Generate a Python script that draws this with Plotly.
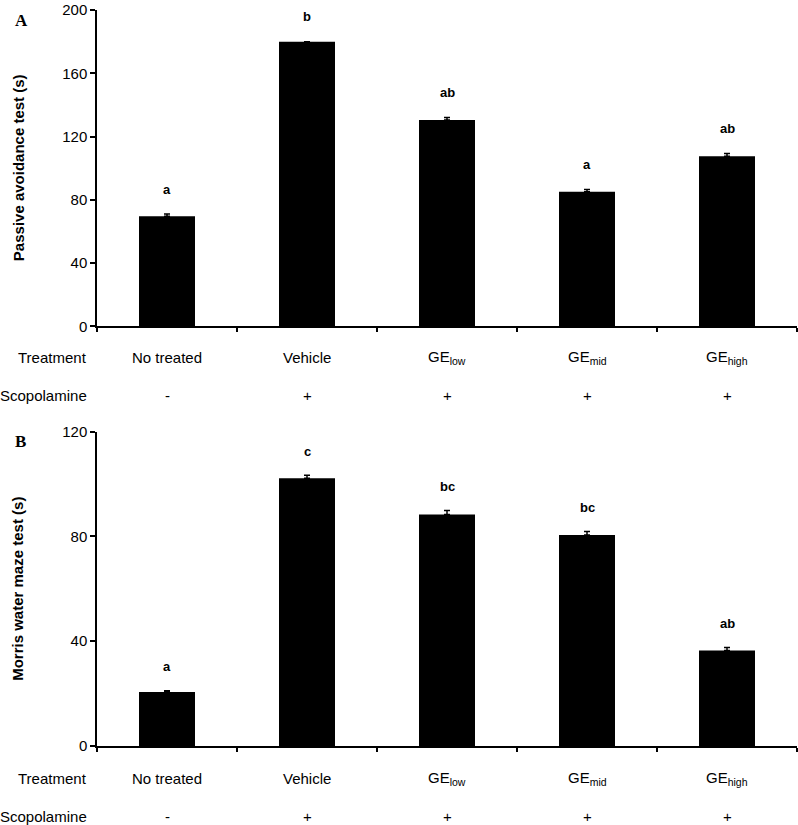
import plotly.graph_objects as go

# ---- data ----
categories = ["No treated", "Vehicle", "GE<sub>low</sub>", "GE<sub>mid</sub>", "GE<sub>high</sub>"]
scopolamine = ["-", "+", "+", "+", "+"]

passive_values = [69.5, 180, 130.5, 85, 107.5]
passive_errors = [1.5, 0, 1.5, 1.5, 1.7]
passive_letters = ["a", "b", "ab", "a", "ab"]

morris_values = [20.6, 102.2, 88.4, 80.6, 36.5]
morris_errors = [0.5, 1.2, 1.5, 1.3, 1.1]
morris_letters = ["a", "c", "bc", "bc", "ab"]

ytick_a = [0, 40, 80, 120, 160, 200]
ytick_b = [0, 40, 80, 120]

# ---- layout helpers ----
W, H = 798, 825
L, R, T, B = 97, 1, 6, 79
PW, PH = W - L - R, H - T - B
FONT = "Liberation Sans, Arial, sans-serif"


def py(p):
    return (H - B - p) / PH


def pxp(p):
    return (p - L) / PW


xs = list(range(len(categories)))

fig = go.Figure()
fig.add_trace(go.Bar(
    x=xs, y=passive_values, width=0.4, marker=dict(color="black", line=dict(width=0)),
    error_y=dict(type="data", array=passive_errors, symmetric=False, arrayminus=[0] * 5,
                 color="black", thickness=1.5, width=3),
    xaxis="x", yaxis="y", showlegend=False, hoverinfo="skip"))
fig.add_trace(go.Bar(
    x=xs, y=morris_values, width=0.4, marker=dict(color="black", line=dict(width=0)),
    error_y=dict(type="data", array=morris_errors, symmetric=False, arrayminus=[0] * 5,
                 color="black", thickness=1.5, width=3),
    xaxis="x2", yaxis="y2", showlegend=False, hoverinfo="skip"))

xaxis_common = dict(range=[-0.5, 4.5], tickmode="array",
                    tickvals=[i - 0.5 for i in range(len(categories) + 1)],
                    showticklabels=False,
                    ticks="outside", ticklen=4, tickwidth=1.5, tickcolor="black",
                    showline=True, linecolor="black", linewidth=1.5,
                    showgrid=False, zeroline=False, fixedrange=True)
yaxis_common = dict(ticks="outside", ticklen=5, tickwidth=1.5, tickcolor="black",
                    showline=True, linecolor="black", linewidth=1.5,
                    showgrid=False, zeroline=False,
                    tickfont=dict(family=FONT, size=15, color="black"))

fig.update_layout(
    width=W, height=H,
    margin=dict(l=L, r=R, t=T, b=B),
    paper_bgcolor="white", plot_bgcolor="white",
    bargap=0.6,
    xaxis=dict(**xaxis_common, domain=[0, 1], anchor="y"),
    yaxis=dict(**yaxis_common, domain=[py(324), py(6)], range=[0, 200],
               tickvals=ytick_a, anchor="x"),
    xaxis2=dict(**xaxis_common, domain=[0, 1], anchor="y2"),
    yaxis2=dict(**yaxis_common, domain=[0, py(430)], range=[0, 120],
                tickvals=ytick_b, anchor="x2"),
)

ann = []
# significance letters
for i in xs:
    ann.append(dict(x=i, y=passive_values[i] + passive_errors[i], xref="x", yref="y",
                    text="<b>%s</b>" % passive_letters[i], showarrow=False,
                    yanchor="middle", yshift=25,
                    font=dict(family=FONT, size=13, color="black")))
    ann.append(dict(x=i, y=morris_values[i] + morris_errors[i], xref="x2", yref="y2",
                    text="<b>%s</b>" % morris_letters[i], showarrow=False,
                    yanchor="middle", yshift=24,
                    font=dict(family=FONT, size=13, color="black")))

# category rows
rows = [("x", 355, 394), ("x2", 779, 817)]
for xref, ytreat, yscop in rows:
    ann.append(dict(x=pxp(89), y=py(ytreat), xref="paper", yref="paper", text="Treatment",
                    showarrow=False, xanchor="right", yanchor="middle",
                    font=dict(family=FONT, size=15, color="black")))
    ann.append(dict(x=pxp(89), y=py(yscop), xref="paper", yref="paper", text="Scopolamine",
                    showarrow=False, xanchor="right", yanchor="middle",
                    font=dict(family=FONT, size=15, color="black")))
    for i in xs:
        ann.append(dict(x=i, y=py(ytreat), xref=xref, yref="paper", text=categories[i],
                        showarrow=False, xanchor="center", yanchor="middle",
                        font=dict(family=FONT, size=15, color="black")))
        ann.append(dict(x=i, y=py(yscop), xref=xref, yref="paper", text=scopolamine[i],
                        showarrow=False, xanchor="center", yanchor="middle",
                        font=dict(family=FONT, size=15, color="black")))

# y-axis titles
ann.append(dict(x=pxp(18), y=py(165), xref="paper", yref="paper",
                text="<b>Passive avoidance test (s)</b>", textangle=-90, showarrow=False,
                xanchor="center", yanchor="middle",
                font=dict(family=FONT, size=15, color="black")))
ann.append(dict(x=pxp(18), y=py(588), xref="paper", yref="paper",
                text="<b>Morris water maze test (s)</b>", textangle=-90, showarrow=False,
                xanchor="center", yanchor="middle",
                font=dict(family=FONT, size=15, color="black")))

# panel letters
ann.append(dict(x=pxp(21), y=py(17), xref="paper", yref="paper", text="<b>A</b>",
                showarrow=False, xanchor="center", yanchor="middle",
                font=dict(family="Liberation Serif, Times New Roman, serif", size=17, color="black")))
ann.append(dict(x=pxp(20), y=py(440), xref="paper", yref="paper", text="<b>B</b>",
                showarrow=False, xanchor="center", yanchor="middle",
                font=dict(family="Liberation Serif, Times New Roman, serif", size=17, color="black")))

fig.update_layout(annotations=ann)
fig.write_html("out.html", config={"displayModeBar": False},
               post_script="document.body.style.margin='0';document.body.style.overflow='hidden';")
